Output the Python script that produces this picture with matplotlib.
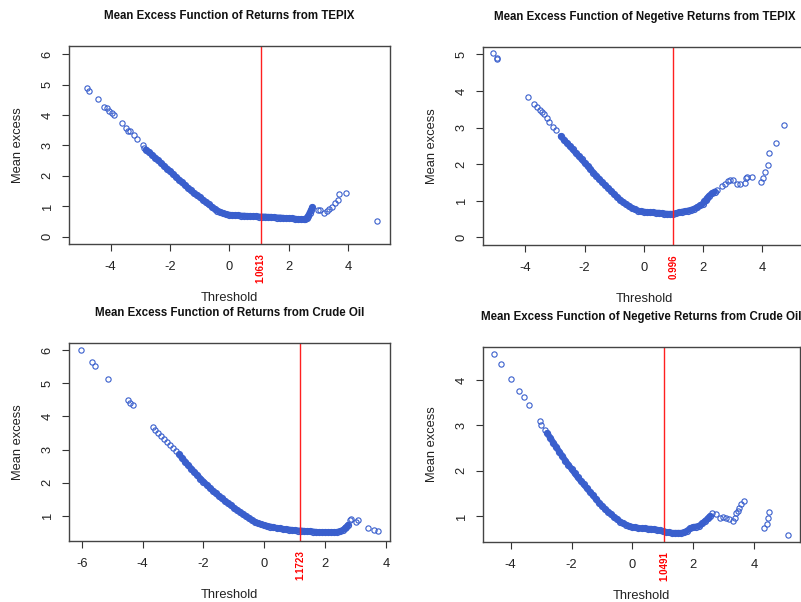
import matplotlib
matplotlib.use("Agg")
import matplotlib.pyplot as plt

plt.rcParams['font.family'] = ['Liberation Sans', 'DejaVu Sans']

# ---------------- data ----------------
titles = [
    "Mean Excess Function of Returns from TEPIX",
    "Mean Excess Function of Negetive Returns from TEPIX",
    "Mean Excess Function of Returns from Crude Oil",
    "Mean Excess Function of Negetive Returns from Crude Oil",
]
thresholds = [1.0613, 0.996, 1.1723, 1.0491]
threshold_labels = ["1.0613", "0.996", "1.1723", "1.0491"]

# Panel 1: returns TEPIX (isolated points, then the dense run)
tepix_sparse_x = [-4.80, -4.71, -4.41, -4.21, -4.13, -4.05, -3.96, -3.90, -3.62, -3.48,
                  -3.40, -3.35, -3.21, -3.10, -2.92, -2.86,
                  3.00, 3.05, 3.20, 3.28, 3.34, 3.45, 3.56, 3.65, 3.69, 3.93, 4.97]
tepix_sparse_me = [4.90, 4.80, 4.52, 4.28, 4.22, 4.13, 4.06, 4.00, 3.73, 3.59,
                   3.49, 3.47, 3.35, 3.20, 3.02, 2.93,
                   0.88, 0.88, 0.77, 0.86, 0.90, 0.99, 1.10, 1.21, 1.40, 1.45, 0.52]
tepix_dense_x = [-2.8, -2.7, -2.6, -2.5, -2.4, -2.3, -2.2, -2.1, -2.0, -1.9, -1.8, -1.7,
                 -1.6, -1.5, -1.4, -1.3, -1.2, -1.1, -1.0, -0.9, -0.8, -0.7, -0.6, -0.5,
                 -0.4, -0.3, -0.2, -0.1, 0.0, 0.1, 0.2, 0.3, 0.4, 0.5, 0.6, 0.7, 0.8, 0.9,
                 1.0, 1.1, 1.2, 1.3, 1.4, 1.5, 1.6, 1.7, 1.8, 1.9, 2.0, 2.1, 2.2, 2.3, 2.4,
                 2.5, 2.55, 2.6, 2.65, 2.7, 2.75, 2.8]
tepix_dense_me = [2.86, 2.77, 2.69, 2.60, 2.51, 2.42, 2.33, 2.24, 2.15, 2.06, 1.97, 1.88,
                  1.79, 1.70, 1.61, 1.52, 1.43, 1.37, 1.30, 1.22, 1.14, 1.06, 0.99, 0.92,
                  0.86, 0.81, 0.77, 0.74, 0.72, 0.71, 0.70, 0.70, 0.69, 0.69, 0.68, 0.68, 0.67, 0.67,
                  0.66, 0.66, 0.66, 0.65, 0.65, 0.64, 0.63, 0.63, 0.62, 0.61, 0.61, 0.60, 0.59, 0.58, 0.57,
                  0.57, 0.58, 0.62, 0.68, 0.78, 0.88, 0.97]

# Panel 2: negative returns TEPIX
negtepix_sparse_x = [-5.10, -4.97, -4.95, -3.92, -3.70, -3.61, -3.50, -3.43, -3.36, -3.28,
                     -3.20, -3.07, -2.97,
                     2.47, 2.64, 2.75, 2.86, 2.92, 3.03, 3.14, 3.25, 3.42, 3.46, 3.50, 3.65,
                     3.95, 4.02, 4.10, 4.18, 4.22, 4.47, 4.74]
negtepix_sparse_me = [5.03, 4.89, 4.87, 3.84, 3.63, 3.57, 3.48, 3.42, 3.36, 3.27,
                      3.16, 3.02, 2.93,
                      1.29, 1.40, 1.47, 1.55, 1.57, 1.57, 1.46, 1.47, 1.49, 1.61, 1.66, 1.64,
                      1.52, 1.63, 1.78, 1.98, 2.30, 2.58, 3.08]
negtepix_dense_x = [-2.8, -2.7, -2.6, -2.5, -2.4, -2.3, -2.2, -2.1, -2.0, -1.9, -1.8, -1.7,
                    -1.6, -1.5, -1.4, -1.3, -1.2, -1.1, -1.0, -0.9, -0.8, -0.7, -0.6, -0.5,
                    -0.4, -0.3, -0.2, -0.1, 0.0, 0.1, 0.2, 0.3, 0.4, 0.5, 0.6, 0.7, 0.8, 0.9,
                    1.0, 1.1, 1.2, 1.3, 1.4, 1.5, 1.6, 1.7, 1.8, 1.9, 2.0, 2.05, 2.1, 2.15, 2.2,
                    2.3, 2.4]
negtepix_dense_me = [2.76, 2.67, 2.58, 2.49, 2.40, 2.31, 2.22, 2.13, 2.04, 1.95, 1.86, 1.77,
                     1.68, 1.59, 1.50, 1.42, 1.34, 1.26, 1.18, 1.10, 1.03, 0.96, 0.90, 0.85,
                     0.80, 0.76, 0.73, 0.71, 0.70, 0.69, 0.68, 0.68, 0.67, 0.67, 0.66, 0.65, 0.64, 0.64,
                     0.64, 0.66, 0.68, 0.70, 0.71, 0.73, 0.75, 0.78, 0.82, 0.87, 0.92, 0.98, 1.03, 1.08, 1.13,
                     1.20, 1.25]

# Panel 3: returns crude oil
oil_sparse_x = [-6.01, -5.68, -5.57, -5.15, -4.49, -4.42, -4.33, -3.65,
                -3.6, -3.5, -3.4, -3.3, -3.2, -3.1, -3.0, -2.9,
                2.82, 2.86, 3.02, 3.09, 3.42, 3.60, 3.74]
oil_sparse_me = [6.00, 5.65, 5.53, 5.13, 4.50, 4.40, 4.34, 3.67,
                 3.58, 3.50, 3.42, 3.33, 3.24, 3.14, 3.05, 2.95,
                 0.87, 0.89, 0.82, 0.87, 0.62, 0.57, 0.55]
oil_dense_x = [-2.8, -2.7, -2.6, -2.5,
               -2.4, -2.3, -2.2, -2.1, -2.0, -1.9, -1.8, -1.7, -1.6, -1.5, -1.4, -1.3,
               -1.2, -1.1, -1.0, -0.9, -0.8, -0.7, -0.6, -0.5, -0.4, -0.3, -0.2, -0.1,
               0.0, 0.1, 0.2, 0.3, 0.4, 0.5, 0.6, 0.7, 0.8, 0.9, 1.0, 1.1, 1.2, 1.3, 1.4,
               1.5, 1.6, 1.7, 1.8, 1.9, 2.0, 2.1, 2.2, 2.3, 2.4, 2.5, 2.6, 2.65, 2.7, 2.75]
oil_dense_me = [2.85, 2.74, 2.63, 2.52,
                2.42, 2.32, 2.22, 2.12, 2.03, 1.94, 1.85, 1.76, 1.68, 1.60, 1.52, 1.45,
                1.38, 1.31, 1.24, 1.17, 1.11, 1.04, 0.98, 0.92, 0.86, 0.81, 0.77, 0.74,
                0.71, 0.69, 0.67, 0.65, 0.63, 0.62, 0.60, 0.59, 0.58, 0.57, 0.56, 0.55, 0.55, 0.54, 0.53,
                0.53, 0.52, 0.51, 0.50, 0.50, 0.50, 0.50, 0.50, 0.50, 0.51, 0.53, 0.58, 0.62, 0.66, 0.72]

# Panel 4: negative returns crude oil
negoil_sparse_x = [-4.54, -4.32, -3.99, -3.73, -3.56, -3.41, -3.04, -3.00, -2.88,
                   2.61, 2.75, 2.88, 2.99, 3.08, 3.16, 3.30, 3.36, 3.41, 3.46, 3.52, 3.58, 3.67,
                   4.34, 4.42, 4.45, 4.50, 5.13]
negoil_sparse_me = [4.58, 4.36, 4.02, 3.77, 3.62, 3.45, 3.10, 3.02, 2.90,
                    1.07, 1.04, 0.95, 0.98, 0.95, 0.93, 0.90, 0.95, 1.06, 1.11, 1.17, 1.26, 1.33,
                    0.74, 0.82, 0.96, 1.10, 0.59]
negoil_dense_x = [-2.8, -2.7, -2.6, -2.5, -2.4, -2.3, -2.2, -2.1, -2.0, -1.9, -1.8, -1.7,
                  -1.6, -1.5, -1.4, -1.3, -1.2, -1.1, -1.0, -0.9, -0.8, -0.7, -0.6, -0.5,
                  -0.4, -0.3, -0.2, -0.1, 0.0, 0.1, 0.2, 0.3, 0.4, 0.5, 0.6, 0.7, 0.8, 0.9,
                  1.0, 1.1, 1.2, 1.3, 1.4, 1.5, 1.6, 1.7, 1.8, 1.9, 2.0, 2.1, 2.2, 2.3, 2.4,
                  2.5, 2.55]
negoil_dense_me = [2.83, 2.73, 2.62, 2.52, 2.42, 2.32, 2.22, 2.13, 2.04, 1.95, 1.86, 1.78,
                   1.70, 1.62, 1.54, 1.46, 1.38, 1.30, 1.23, 1.16, 1.10, 1.04, 0.98, 0.93,
                   0.88, 0.84, 0.81, 0.78, 0.76, 0.75, 0.74, 0.73, 0.73, 0.72, 0.72, 0.71, 0.70, 0.69,
                   0.67, 0.65, 0.64, 0.63, 0.63, 0.63, 0.63, 0.64, 0.68, 0.73, 0.76, 0.77, 0.79, 0.84, 0.90,
                   0.96, 1.00]

sparse_x = [tepix_sparse_x, negtepix_sparse_x, oil_sparse_x, negoil_sparse_x]
sparse_y = [tepix_sparse_me, negtepix_sparse_me, oil_sparse_me, negoil_sparse_me]
dense_x = [tepix_dense_x, negtepix_dense_x, oil_dense_x, negoil_dense_x]
dense_y = [tepix_dense_me, negtepix_dense_me, oil_dense_me, negoil_dense_me]
xticks = [[-4, -2, 0, 2, 4], [-4, -2, 0, 2, 4], [-6, -4, -2, 0, 2, 4], [-4, -2, 0, 2, 4]]
yticks = [[0, 1, 2, 3, 4, 5, 6], [0, 1, 2, 3, 4, 5], [1, 2, 3, 4, 5, 6], [1, 2, 3, 4]]

# ---------------- layout ----------------
W, H = 801, 602
fig = plt.figure(figsize=(W / 100, H / 100), dpi=100)

# pixel boxes: left, top, right, bottom
boxes = [(69, 46, 390, 244), (483, 47, 806, 245), (69, 343, 390, 541), (483, 347, 800, 542)]
xlims = [(-5.40, 5.41), (-5.43, 5.48), (-6.42, 4.13), (-4.91, 5.51)]
ylims = [(-0.24, 6.27), (-0.21, 5.20), (0.235, 6.22), (0.43, 4.73)]

point_color = '#3A5FCD'
fs = 9.3

for i in range(4):
    l, t, r, b = boxes[i]
    ax = fig.add_axes([l / W, 1 - b / H, (r - l) / W, (b - t) / H])
    # dense run of overlapping circles renders as a solid band
    ax.plot(dense_x[i], dense_y[i], '-', color=point_color, lw=4.4,
            solid_capstyle='round', solid_joinstyle='round')
    ax.plot(dense_x[i], dense_y[i], 'o', mfc='none', mec=point_color,
            ms=4.2, mew=1.0, linestyle='none')
    ax.plot(sparse_x[i], sparse_y[i], 'o', mfc='none', mec=point_color,
            ms=3.8, mew=0.8, linestyle='none')
    ax.axvline(thresholds[i], color='#FF2020', lw=1.0)
    ax.set_xlim(*xlims[i])
    ax.set_ylim(*ylims[i])
    ax.set_xticks(xticks[i])
    ax.set_yticks(yticks[i])
    ax.set_xticklabels([str(v) for v in xticks[i]])
    ax.set_yticklabels([str(v) for v in yticks[i]], rotation=90, va='center')
    ax.tick_params(direction='out', length=5, width=0.8, colors='#333333',
                   labelcolor='#222222', labelsize=fs)
    ax.tick_params(axis='x', pad=7)
    ax.tick_params(axis='y', pad=6)
    for sp in ax.spines.values():
        sp.set_color('#444444')
        sp.set_linewidth(1.0)
    ax.annotate(titles[i], xy=(0.5, 1), xycoords='axes fraction',
                xytext=(0, 30), textcoords='offset pixels',
                ha='center', va='center', fontsize=8.3, fontweight='bold',
                color='#111111', annotation_clip=False)
    ax.annotate("Threshold", xy=(0.5, 0), xycoords='axes fraction',
                xytext=(0, -54), textcoords='offset pixels',
                ha='center', va='center', fontsize=fs, color='#222222',
                annotation_clip=False)
    ax.annotate("Mean excess", xy=(0, 0.5), xycoords='axes fraction',
                xytext=(-51, 0), textcoords='offset pixels',
                ha='center', va='center', fontsize=fs, color='#222222',
                rotation=90, annotation_clip=False)
    ax.annotate(threshold_labels[i], xy=(thresholds[i], 0),
                xycoords=('data', 'axes fraction'),
                xytext=(0, -9), textcoords='offset pixels',
                ha='center', va='top', rotation=90, fontsize=7,
                fontweight='bold', color='#FF0000', annotation_clip=False)

fig.savefig("out.png", dpi=100)
